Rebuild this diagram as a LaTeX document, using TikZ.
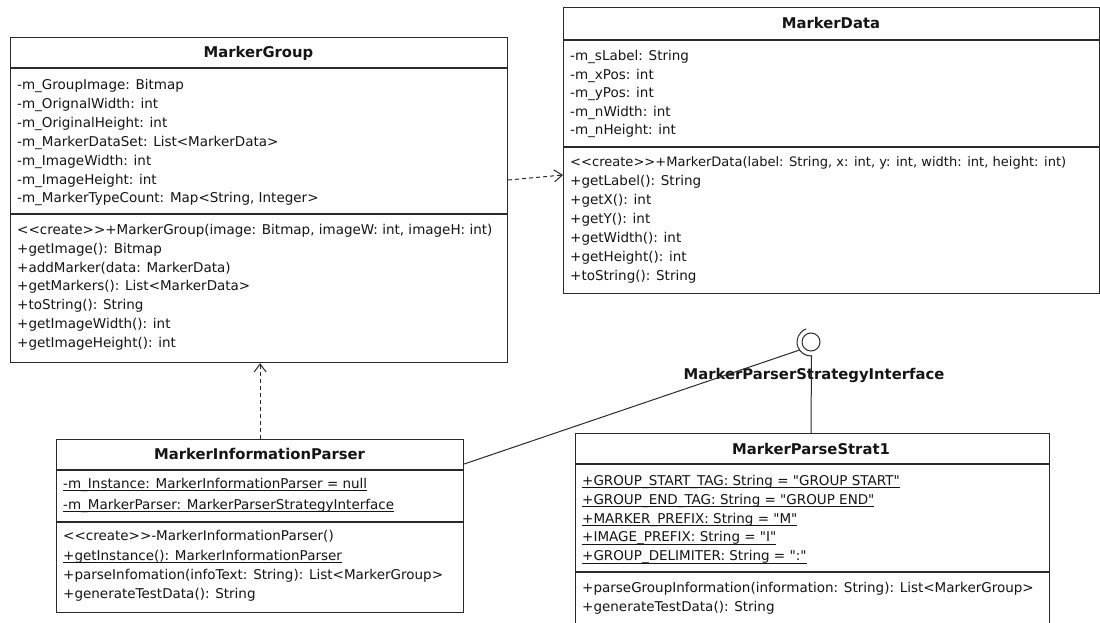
\documentclass[tikz,border=0pt]{standalone}
\usepackage{fontspec}
\setmainfont{DejaVu Sans}[Ligatures=TeXOff]
\usetikzlibrary{arrows.meta}
\definecolor{ink}{HTML}{151515}
\definecolor{boxline}{HTML}{2A2A2A}
% underline that sits just below the baseline, as for static members
\newcommand\staticmember[1]{\setbox0\hbox{#1}\rlap{\rule[-2.6pt]{\wd0}{0.8pt}}\box0}
\begin{document}
\begin{tikzpicture}[x=1pt,y=1pt,
  classbox/.style={draw=boxline, line width=1.2pt, inner sep=0pt, anchor=north west},
  member/.style={anchor=base west, inner sep=0pt, text=ink, font=\fontsize{13.5}{16}\selectfont},
  classname/.style={anchor=base, inner sep=0pt, text=ink, font=\fontsize{14.8}{17}\selectfont\bfseries},
  divider/.style={draw=boxline, line width=1.2pt},
  dep/.style={draw=boxline, line width=1pt, dash pattern=on 4pt off 3pt,
              -{Straight Barb[length=8pt,width=12pt,line width=1pt]}},
  wire/.style={draw=boxline, line width=1pt}]

\clip (0,-623) rectangle (1100,0);
\fill[white] (0,-623) rectangle (1100,0);

% ---------- MarkerGroup ----------
\node[classbox, minimum width=497pt, minimum height=325pt] (mg) at (10,-37) {};
\draw[divider] ([yshift=-31pt]mg.north west) -- ([yshift=-31pt]mg.north east);
\draw[divider] ([yshift=-177pt]mg.north west) -- ([yshift=-177pt]mg.north east);
\node[classname] (mg-name) at (258.5,-57.5) {MarkerGroup};
\node[member] (mg-a1) at (17,-89.5)  {-m\_GroupImage: Bitmap};
\node[member] (mg-a2) at (17,-108.4) {-m\_OrignalWidth: int};
\node[member] (mg-a3) at (17,-127.3) {-m\_OriginalHeight: int};
\node[member] (mg-a4) at (17,-146.2) {-m\_MarkerDataSet: List<MarkerData>};
\node[member] (mg-a5) at (17,-165.1) {-m\_ImageWidth: int};
\node[member] (mg-a6) at (17,-184.0) {-m\_ImageHeight: int};
\node[member] (mg-a7) at (17,-202.9) {-m\_MarkerTypeCount: Map<String, Integer>};
\node[member] (mg-m1) at (17,-234.5) {<<create>>+MarkerGroup(image: Bitmap, imageW: int, imageH: int)};
\node[member] (mg-m2) at (17,-253.3) {+getImage(): Bitmap};
\node[member] (mg-m3) at (17,-272.1) {+addMarker(data: MarkerData)};
\node[member] (mg-m4) at (17,-290.9) {+getMarkers(): List<MarkerData>};
\node[member] (mg-m5) at (17,-309.7) {+toString(): String};
\node[member] (mg-m6) at (17,-328.5) {+getImageWidth(): int};
\node[member] (mg-m7) at (17,-347.3) {+getImageHeight(): int};

% ---------- MarkerData ----------
\node[classbox, minimum width=535.5pt, minimum height=286pt] (md) at (563,-7) {};
\draw[divider] ([yshift=-33pt]md.north west) -- ([yshift=-33pt]md.north east);
\draw[divider] ([yshift=-140pt]md.north west) -- ([yshift=-140pt]md.north east);
\node[classname] (md-name) at (831,-28.5) {MarkerData};
\node[member] (md-a1) at (570,-60.5)  {-m\_sLabel: String};
\node[member] (md-a2) at (570,-79.1)  {-m\_xPos: int};
\node[member] (md-a3) at (570,-97.7)  {-m\_yPos: int};
\node[member] (md-a4) at (570,-116.3) {-m\_nWidth: int};
\node[member] (md-a5) at (570,-134.9) {-m\_nHeight: int};
\node[member, font=\fontsize{13.05}{16}\selectfont] (md-m1) at (570,-166.5) {<<create>>+MarkerData(label: String, x: int, y: int, width: int, height: int)};
\node[member] (md-m2) at (570,-185.5) {+getLabel(): String};
\node[member] (md-m3) at (570,-204.5) {+getX(): int};
\node[member] (md-m4) at (570,-223.5) {+getY(): int};
\node[member] (md-m5) at (570,-242.5) {+getWidth(): int};
\node[member] (md-m6) at (570,-261.5) {+getHeight(): int};
\node[member] (md-m7) at (570,-280.5) {+toString(): String};

% ---------- MarkerInformationParser ----------
\node[classbox, minimum width=407pt, minimum height=173pt] (mip) at (56,-439) {};
\draw[divider] ([yshift=-31pt]mip.north west) -- ([yshift=-31pt]mip.north east);
\draw[divider] ([yshift=-83pt]mip.north west) -- ([yshift=-83pt]mip.north east);
\node[classname] (mip-name) at (259.5,-459.5) {MarkerInformationParser};
\node[member] (mip-a1) at (63,-488.5) {\staticmember{-m\_Instance: MarkerInformationParser = null}};
\node[member] (mip-a2) at (63,-509.5) {\staticmember{-m\_MarkerParser: MarkerParserStrategyInterface}};
\node[member] (mip-m1) at (63,-540.5) {<<create>>-MarkerInformationParser()};
\node[member] (mip-m2) at (63,-560.5) {\staticmember{+getInstance(): MarkerInformationParser}};
\node[member] (mip-m3) at (63,-579.5) {+parseInfomation(infoText: String): List<MarkerGroup>};
\node[member] (mip-m4) at (63,-598.5) {+generateTestData(): String};

% ---------- MarkerParseStrat1 (continues below the visible area) ----------
\node[classbox, minimum width=474pt, minimum height=220pt] (mps) at (575,-433) {};
\draw[divider] ([yshift=-31pt]mps.north west) -- ([yshift=-31pt]mps.north east);
\draw[divider] ([yshift=-139pt]mps.north west) -- ([yshift=-139pt]mps.north east);
\node[classname] (mps-name) at (811,-454.5) {MarkerParseStrat1};
\node[member] (mps-a1) at (582,-485.5) {\staticmember{+GROUP\_START\_TAG: String = "GROUP START"}};
\node[member] (mps-a2) at (582,-504.3) {\staticmember{+GROUP\_END\_TAG: String = "GROUP END"}};
\node[member] (mps-a3) at (582,-523.1) {\staticmember{+MARKER\_PREFIX: String = "M"}};
\node[member] (mps-a4) at (582,-541.9) {\staticmember{+IMAGE\_PREFIX: String = "I"}};
\node[member] (mps-a5) at (582,-560.7) {\staticmember{+GROUP\_DELIMITER: String = ":"}};
\node[member] (mps-m1) at (582,-592.0) {+parseGroupInformation(information: String): List<MarkerGroup>};
\node[member] (mps-m2) at (582,-611.0) {+generateTestData(): String};

% ---------- provided / required interface ----------
\node[circle, draw=boxline, line width=1pt, minimum size=18pt, inner sep=0pt] (iface) at (811,-342) {};
\draw[wire] ([shift={(110:14pt)}]iface.center) arc[start angle=110, end angle=275, radius=14pt];
\node[classname] (iface-name) at (814,-379) {MarkerParserStrategyInterface};

% ---------- connectors ----------
\draw[dep] ([yshift=-143pt]mg.north east) -- ([yshift=-168pt]md.north west);
\draw[dep] (mip.north) -- (mip.north |- mg.south);
\draw[wire] ([yshift=-25pt]mip.north east) -- ([shift={(215:14pt)}]iface.center);
\draw[wire] ([shift={(272:14pt)}]iface.center) -- (mps.north -| iface.center);
\end{tikzpicture}
\end{document}
